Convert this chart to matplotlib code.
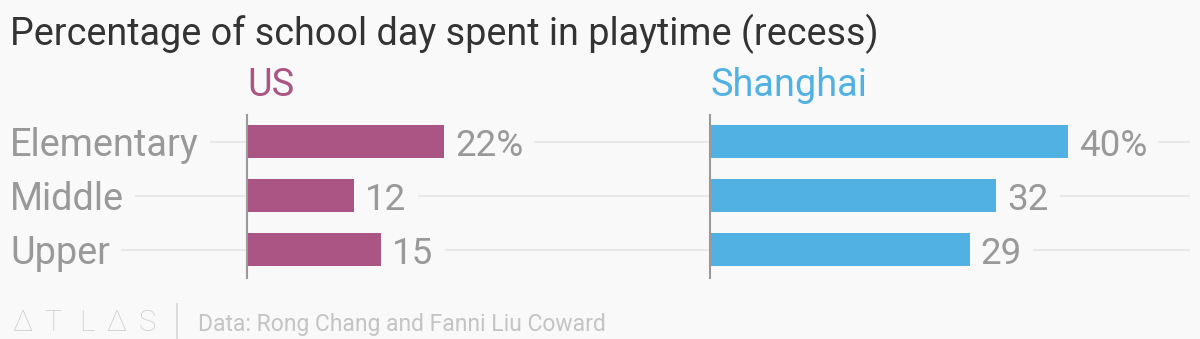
import matplotlib
matplotlib.use("Agg")
import matplotlib.pyplot as plt
from matplotlib.transforms import blended_transform_factory

plt.rcParams['font.family'] = ['Roboto', 'DejaVu Sans']

title = "Percentage of school day spent in playtime (recess)"
categories = ["Elementary", "Middle", "Upper"]
us_values = [22, 12, 15]
shanghai_values = [40, 32, 29]
value_labels_us = ["22%", "12", "15"]
value_labels_sh = ["40%", "32", "29"]
source = "Data: Rong Chang and Fanni Liu Coward"
logo_letters = ["\u0394", "T", "L", "\u0394", "S"]

BG = "#f9f9f9"
US_COLOR = "#ab5585"
SH_COLOR = "#52b1e3"
LABEL_GRAY = "#999999"
GRID = "#e9e9e9"

W, H = 1200, 339
fig = plt.figure(figsize=(W / 100, H / 100), dpi=100, facecolor=BG)


def px_rect(x0, y0, x1, y1):
    # pixel box (top-left origin) -> figure fraction rect
    return [x0 / W, 1 - y1 / H, (x1 - x0) / W, (y1 - y0) / H]


PX_PER_UNIT = 8.95
PITCH = 54.0
y_top, y_bot = 115, 278
first_center = 141.5
ylim = (2 + (y_bot - (first_center + 2 * PITCH)) / PITCH,
        -(first_center - y_top) / PITCH)

left_x0, left_x1 = 247, 700
right_x0, right_x1 = 710, 1190

ax1 = fig.add_axes(px_rect(left_x0, y_top, left_x1, y_bot))
ax2 = fig.add_axes(px_rect(right_x0, y_top, right_x1, y_bot))

ypos = list(range(len(categories)))

for ax, x0, x1, vals, labels, color, name in [
        (ax1, left_x0, left_x1, us_values, value_labels_us, US_COLOR, "US"),
        (ax2, right_x0, right_x1, shanghai_values, value_labels_sh, SH_COLOR, "Shanghai")]:
    ax.set_facecolor("none")
    ax.set_xlim(0, (x1 - x0) / PX_PER_UNIT)
    ax.set_ylim(*ylim)
    ax.barh(ypos, vals, height=33 / PITCH, color=color, zorder=2)
    for y, v, lab in zip(ypos, vals, labels):
        ax.text(v + 11 / PX_PER_UNIT, y, lab, ha="left", va="center_baseline",
                fontsize=26.5, color=LABEL_GRAY, zorder=3,
                bbox=dict(boxstyle="square,pad=0.3", fc=BG, ec="none"))
    for s in ["top", "right", "bottom"]:
        ax.spines[s].set_visible(False)
    ax.spines["left"].set_color("#9a9a9a")
    ax.spines["left"].set_linewidth(1.5)
    ax.spines["left"].set_zorder(4)
    ax.set_xticks([])
    ax.set_yticks([])
    fig.text(x0 / W, 1 - 96 / H, name, color=color, fontsize=27.3,
             ha="left", va="baseline")

# gridlines across the full width, behind everything
ax1.hlines(ypos, (30 - left_x0) / PX_PER_UNIT, (1190 - left_x0) / PX_PER_UNIT,
           color=GRID, linewidth=1.5, clip_on=False, zorder=0)

# category labels
tr = blended_transform_factory(fig.transFigure, ax1.transData)
for y, cat in zip(ypos, categories):
    ax1.text(10 / W, y, cat, transform=tr, ha="left", va="center_baseline",
             fontsize=27.3, color=LABEL_GRAY, zorder=3,
             bbox=dict(boxstyle="square,pad=0.3", fc=BG, ec="none"))

fig.text(10 / W, 1 - 45 / H, title, fontsize=27.2, color="#333333",
         ha="left", va="baseline")

# footer: spaced-out logo letters, divider, source
for cx, ch in zip([22, 53, 86.5, 116.5, 147.5], logo_letters):
    fig.text(cx / W, 1 - 331 / H, ch, fontsize=21, color="#cccccc",
             ha="center", va="baseline", fontweight="light")
fig.add_artist(plt.Line2D([177 / W, 177 / W], [1 - 304 / H, 1 - 338 / H],
                          color="#d5d5d5", linewidth=1.2))
fig.text(198 / W, 1 - 331 / H, source, fontsize=16.5, color="#c4c4c4",
         ha="left", va="baseline")

fig.savefig("out.png", dpi=100, facecolor=BG)
